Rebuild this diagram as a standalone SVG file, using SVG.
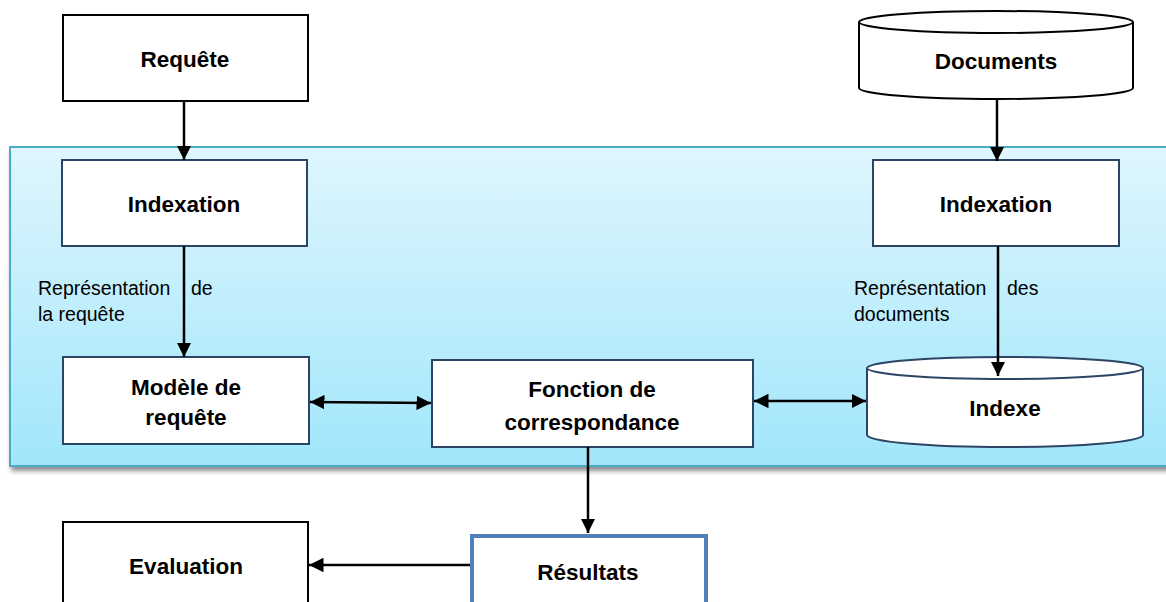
<svg xmlns="http://www.w3.org/2000/svg" width="1166" height="602" viewBox="0 0 1166 602">
<defs>
  <linearGradient id="panelGrad" x1="0" y1="0" x2="0" y2="1">
    <stop offset="0" stop-color="#dff6fd"/>
    <stop offset="1" stop-color="#a1e6fb"/>
  </linearGradient>
  <filter id="shadow" x="-5%" y="-5%" width="110%" height="120%">
    <feGaussianBlur in="SourceAlpha" stdDeviation="2.5"/>
    <feOffset dx="2" dy="4" result="b"/>
    <feComponentTransfer><feFuncA type="linear" slope="0.45"/></feComponentTransfer>
    <feMerge><feMergeNode/><feMergeNode in="SourceGraphic"/></feMerge>
  </filter>
  <marker id="arr" viewBox="0 0 10 10" refX="10" refY="5" markerWidth="5.8" markerHeight="5.8" orient="auto-start-reverse" markerUnits="strokeWidth">
    <path d="M0,0 L10,5 L0,10 z" fill="#000"/>
  </marker>
</defs>
<style>
  .box { fill: #fff; stroke: #000; stroke-width: 2; }
  .inner { fill: #fff; stroke: #2c4465; stroke-width: 2; }
  .res { fill: #fff; stroke: #5181bd; stroke-width: 4; }
  .lbl { font-family: "Liberation Sans", Arial, sans-serif; font-weight: bold; font-size: 22.5px; fill: #000; text-anchor: middle; }
  .edge { font-family: "Liberation Sans", Arial, sans-serif; font-size: 19.5px; fill: #000; }
  .conn { stroke: #000; stroke-width: 2.5; fill: none; }
</style>

<g id="panel">
  <rect x="10" y="147" width="1170" height="319" fill="url(#panelGrad)" stroke="#4bacc6" stroke-width="2" filter="url(#shadow)"/>
</g>

<g id="requete">
  <rect class="box" x="63" y="15" width="245" height="86"/>
  <text class="lbl" x="185" y="67">Requête</text>
</g>

<g id="documents">
  <path class="box" d="M859,22 L859,88 A137,11 0 0 0 1133,88 L1133,22"/>
  <ellipse class="box" cx="996" cy="22" rx="137" ry="11"/>
  <text class="lbl" x="996" y="69">Documents</text>
</g>

<g id="indexation-gauche">
  <rect class="inner" x="62" y="160" width="245" height="86"/>
  <text class="lbl" x="184" y="212">Indexation</text>
</g>

<g id="indexation-droite">
  <rect class="inner" x="873" y="160" width="246" height="86"/>
  <text class="lbl" x="996" y="212">Indexation</text>
</g>

<g id="modele">
  <rect class="inner" x="63" y="357" width="246" height="87"/>
  <text class="lbl" x="186" y="395">Modèle de</text>
  <text class="lbl" x="186" y="425">requête</text>
</g>

<g id="fonction">
  <rect class="inner" x="432" y="360" width="321" height="87"/>
  <text class="lbl" x="592" y="397">Fonction de</text>
  <text class="lbl" x="592" y="430">correspondance</text>
</g>

<g id="indexe">
  <path class="inner" d="M867,368 L867,435 A138,12 0 0 0 1143,435 L1143,368"/>
  <ellipse class="inner" cx="1005" cy="368" rx="138" ry="11"/>
  <text class="lbl" x="1005" y="416">Indexe</text>
</g>

<g id="resultats">
  <rect class="res" x="472" y="536" width="234" height="80"/>
  <text class="lbl" x="588" y="580">Résultats</text>
</g>

<g id="evaluation">
  <rect class="box" x="63" y="522" width="245" height="90"/>
  <text class="lbl" x="186" y="574">Evaluation</text>
</g>

<g id="connectors">
  <line class="conn" x1="184" y1="101" x2="184" y2="160" marker-end="url(#arr)"/>
  <line class="conn" x1="997" y1="98" x2="997" y2="161" marker-end="url(#arr)"/>
  <line class="conn" x1="184" y1="246" x2="184" y2="357" marker-end="url(#arr)"/>
  <line class="conn" x1="998" y1="246" x2="998" y2="376" marker-end="url(#arr)"/>
  <line class="conn" x1="310" y1="402" x2="431" y2="403" marker-start="url(#arr)" marker-end="url(#arr)"/>
  <line class="conn" x1="754" y1="401" x2="866" y2="401" marker-start="url(#arr)" marker-end="url(#arr)"/>
  <line class="conn" x1="588" y1="447" x2="588" y2="533" marker-end="url(#arr)"/>
  <line class="conn" x1="470" y1="565" x2="309" y2="565" marker-end="url(#arr)"/>
  <text class="edge" x="38" y="295">Représentation</text>
  <text class="edge" x="191" y="295">de</text>
  <text class="edge" x="38" y="321">la requête</text>
  <text class="edge" x="854" y="295">Représentation</text>
  <text class="edge" x="1007" y="295">des</text>
  <text class="edge" x="854" y="321">documents</text>
</g>
</svg>
